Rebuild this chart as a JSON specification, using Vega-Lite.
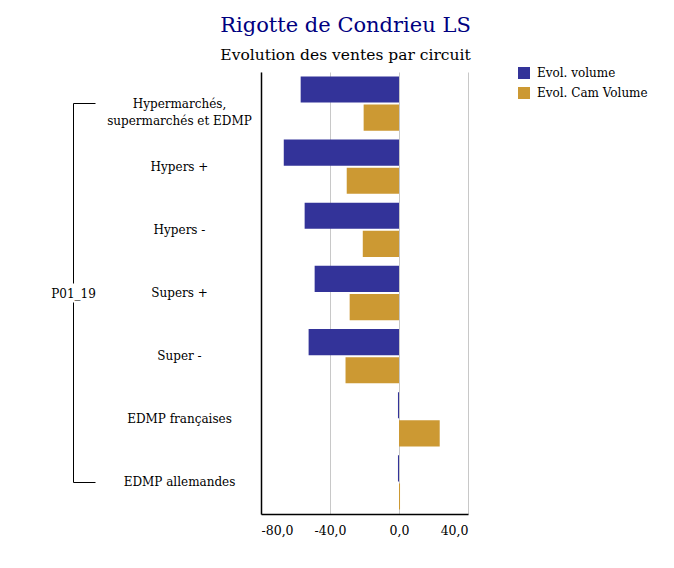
{
  "$schema": "https://vega.github.io/schema/vega-lite/v6.json",
  "width": 207,
  "height": 442,
  "autosize": {"type": "none"},
  "padding": {"left": 261, "top": 72, "right": 206, "bottom": 54},
  "background": "white",
  "title": {
    "text": "Rigotte de Condrieu LS",
    "subtitle": "Evolution des ventes par circuit",
    "anchor": "middle",
    "frame": "group",
    "dx": -19,
    "offset": 4,
    "font": "DejaVu Serif",
    "fontSize": 21,
    "fontWeight": "normal",
    "color": "#000080",
    "subtitleFont": "DejaVu Serif",
    "subtitleFontSize": 15.5,
    "subtitleColor": "black",
    "subtitlePadding": 12
  },
  "config": {"view": {"stroke": null}},
  "data": {
    "values": [
      {"circuit": "Hypermarchés, supermarchés et EDMP", "serie": "Evol. volume", "value": -57.0},
      {"circuit": "Hypermarchés, supermarchés et EDMP", "serie": "Evol. Cam Volume", "value": -20.5},
      {"circuit": "Hypers +", "serie": "Evol. volume", "value": -66.8},
      {"circuit": "Hypers +", "serie": "Evol. Cam Volume", "value": -30.3},
      {"circuit": "Hypers -", "serie": "Evol. volume", "value": -54.7},
      {"circuit": "Hypers -", "serie": "Evol. Cam Volume", "value": -21.0},
      {"circuit": "Supers +", "serie": "Evol. volume", "value": -48.9},
      {"circuit": "Supers +", "serie": "Evol. Cam Volume", "value": -28.6},
      {"circuit": "Super -", "serie": "Evol. volume", "value": -52.4},
      {"circuit": "Super -", "serie": "Evol. Cam Volume", "value": -31.0},
      {"circuit": "EDMP françaises", "serie": "Evol. volume", "value": -0.6},
      {"circuit": "EDMP françaises", "serie": "Evol. Cam Volume", "value": 23.6},
      {"circuit": "EDMP allemandes", "serie": "Evol. volume", "value": -0.6},
      {"circuit": "EDMP allemandes", "serie": "Evol. Cam Volume", "value": 0.6}
    ]
  },
  "layer": [
    {
      "mark": {"type": "bar"},
      "encoding": {
        "y": {
          "field": "circuit",
          "type": "nominal",
          "sort": null,
          "scale": {"paddingInner": 0.14, "paddingOuter": 0.07},
          "axis": {
            "title": null,
            "ticks": false,
            "labelAlign": "center",
            "labelBaseline": "middle",
            "labelPadding": 82,
            "labelFont": "DejaVu Serif",
            "labelFontSize": 12,
            "labelColor": "black",
            "labelLimit": 300,
            "labelLineHeight": 17,
            "labelExpr": "split(replace(datum.value, ', ', ',|'), '|')",
            "domainColor": "black",
            "domainWidth": 1.5
          }
        },
        "yOffset": {
          "field": "serie",
          "type": "nominal",
          "sort": ["Evol. volume", "Evol. Cam Volume"],
          "scale": {"paddingInner": 0.07}
        },
        "x": {
          "field": "value",
          "type": "quantitative",
          "scale": {"domain": [-80, 40], "nice": false},
          "axis": {
            "title": null,
            "values": [-80, -40, 0, 40],
            "ticks": false,
            "grid": true,
            "gridColor": "#c8c8c8",
            "gridWidth": 1,
            "domainColor": "black",
            "domainWidth": 1.5,
            "labelExpr": "replace(replace(format(datum.value, '.1f'), '.', ','), '\u2212', '-')",
            "labelFont": "DejaVu Serif",
            "labelFontSize": 12.5,
            "labelColor": "black",
            "labelPadding": 10
          }
        },
        "color": {
          "field": "serie",
          "type": "nominal",
          "scale": {"domain": ["Evol. volume", "Evol. Cam Volume"], "range": ["#333399", "#CC9933"]},
          "legend": {
            "title": null,
            "orient": "none",
            "legendX": 257,
            "legendY": -5,
            "symbolType": "square",
            "symbolSize": 144,
            "symbolStrokeWidth": 0,
            "symbolOpacity": 1,
            "labelFont": "DejaVu Serif",
            "labelFontSize": 12,
            "labelColor": "black",
            "labelOffset": 7,
            "rowPadding": 8
          }
        }
      }
    },
    {
      "mark": {"type": "point", "opacity": 0},
      "encoding": {
        "y": {
          "datum": "t",
          "type": "nominal",
          "scale": {"type": "point", "domain": ["t", "m"], "range": [31, 211], "padding": 0},
          "axis": {
            "orient": "left",
            "offset": 188,
            "title": null,
            "labels": false,
            "ticks": true,
            "values": ["t"],
            "tickSize": -22,
            "tickColor": "black",
            "tickWidth": 1,
            "domainColor": "black",
            "domainWidth": 1,
            "grid": false
          }
        }
      }
    },
    {
      "mark": {"type": "point", "opacity": 0},
      "encoding": {
        "y": {
          "datum": "b",
          "type": "nominal",
          "scale": {"type": "point", "domain": ["m", "b"], "range": [230, 410], "padding": 0},
          "axis": {
            "orient": "left",
            "offset": 188,
            "title": "P01_19",
            "titleAngle": 0,
            "titleX": 0,
            "titleY": 221,
            "titleAlign": "center",
            "titleBaseline": "middle",
            "titleFont": "DejaVu Serif",
            "titleFontSize": 12,
            "titleFontWeight": "normal",
            "titleColor": "black",
            "labels": false,
            "ticks": true,
            "values": ["b"],
            "tickSize": -22,
            "tickColor": "black",
            "tickWidth": 1,
            "domainColor": "black",
            "domainWidth": 1,
            "grid": false
          }
        }
      }
    }
  ],
  "resolve": {"scale": {"y": "independent"}, "axis": {"y": "independent"}}
}
